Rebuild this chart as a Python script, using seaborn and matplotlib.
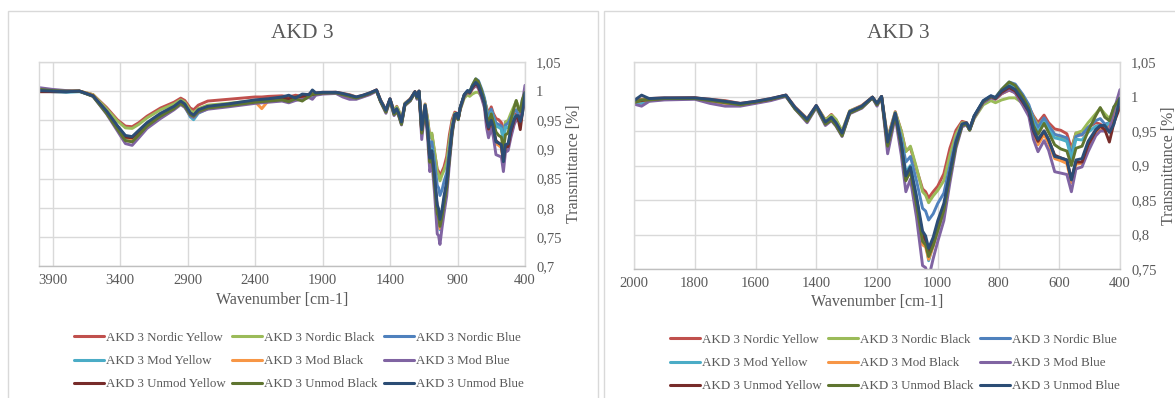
import pandas as pd
import matplotlib.pyplot as plt
import seaborn as sns
from matplotlib.lines import Line2D
from matplotlib.patches import Rectangle

# Wavenumber grid [cm-1] and transmittance
wavenumber = [4000, 3900, 3800, 3700, 3600, 3500, 3420, 3360, 3310, 3260,
              3200, 3100, 3000, 2950, 2920, 2880, 2855, 2820, 2750, 2600,
              2400, 2350, 2300, 2200, 2150, 2100, 2050, 2000, 1975, 1950,
              1900, 1800, 1750, 1700, 1650, 1600, 1550, 1500, 1470, 1430,
              1400, 1370, 1350, 1335, 1315, 1290, 1250, 1215, 1200, 1185,
              1165, 1140, 1120, 1105, 1090, 1070, 1050, 1040, 1030, 1015,
              1000, 980, 960, 940, 920, 905, 895, 880, 850, 825,
              810, 790, 765, 745, 720, 700, 685, 670, 650, 635,
              615, 595, 575, 560, 545, 525, 505, 480, 465, 450,
              435, 420, 400]

nordic_yellow = [1.000, 1.000, 1.000, 1.000, 0.994, 0.972, 0.951, 0.940, 0.939, 0.946,
                 0.957, 0.971, 0.981, 0.988, 0.984, 0.971, 0.968, 0.976, 0.983, 0.986,
                 0.990, 0.990, 0.991, 0.992, 0.990, 0.993, 0.991, 0.995, 0.996, 0.997,
                 0.998, 0.998, 0.996, 0.994, 0.990, 0.993, 0.997, 1.002, 0.985, 0.968,
                 0.987, 0.966, 0.974, 0.966, 0.949, 0.979, 0.987, 0.999, 0.990, 1.000,
                 0.940, 0.978, 0.950, 0.921, 0.926, 0.895, 0.866, 0.862, 0.853, 0.862,
                 0.870, 0.888, 0.925, 0.951, 0.964, 0.962, 0.952, 0.970, 0.992, 1.000,
                 0.997, 1.004, 1.009, 1.006, 0.993, 0.985, 0.972, 0.962, 0.973, 0.962,
                 0.953, 0.951, 0.946, 0.925, 0.947, 0.944, 0.955, 0.962, 0.960, 0.955,
                 0.960, 0.975, 0.985]
nordic_black = [1.001, 1.000, 1.000, 1.000, 0.994, 0.970, 0.949, 0.937, 0.936, 0.943,
                0.954, 0.968, 0.978, 0.985, 0.981, 0.967, 0.963, 0.970, 0.976, 0.979,
                0.984, 0.985, 0.986, 0.988, 0.986, 0.990, 0.992, 0.993, 0.995, 0.996,
                0.997, 0.997, 0.995, 0.993, 0.989, 0.992, 0.996, 1.001, 0.984, 0.967,
                0.986, 0.966, 0.973, 0.967, 0.950, 0.979, 0.986, 0.999, 0.990, 1.000,
                0.938, 0.977, 0.950, 0.920, 0.928, 0.897, 0.862, 0.857, 0.846, 0.856,
                0.864, 0.878, 0.915, 0.945, 0.962, 0.961, 0.952, 0.968, 0.988, 0.994,
                0.991, 0.995, 0.998, 0.998, 0.990, 0.984, 0.970, 0.958, 0.968, 0.958,
                0.945, 0.941, 0.935, 0.920, 0.947, 0.950, 0.962, 0.975, 0.983, 0.975,
                0.968, 0.980, 0.990]
nordic_blue = [1.002, 1.000, 0.999, 1.000, 0.992, 0.965, 0.940, 0.922, 0.920, 0.930,
               0.944, 0.960, 0.973, 0.981, 0.976, 0.961, 0.957, 0.966, 0.973, 0.977,
               0.983, 0.984, 0.985, 0.987, 0.985, 0.989, 0.990, 0.992, 0.993, 0.995,
               0.997, 0.997, 0.995, 0.992, 0.989, 0.992, 0.996, 1.001, 0.984, 0.966,
               0.986, 0.962, 0.969, 0.961, 0.946, 0.977, 0.985, 0.999, 0.989, 1.000,
               0.933, 0.975, 0.940, 0.905, 0.913, 0.878, 0.838, 0.834, 0.821, 0.830,
               0.845, 0.860, 0.900, 0.938, 0.960, 0.961, 0.953, 0.972, 0.994, 1.001,
               0.999, 1.010, 1.021, 1.018, 1.003, 0.988, 0.968, 0.955, 0.969, 0.958,
               0.945, 0.943, 0.940, 0.915, 0.942, 0.945, 0.955, 0.965, 0.968, 0.960,
               0.962, 0.985, 0.995]
mod_yellow = [1.001, 0.999, 0.998, 0.999, 0.992, 0.964, 0.938, 0.919, 0.917, 0.928,
              0.942, 0.958, 0.971, 0.979, 0.974, 0.956, 0.951, 0.962, 0.970, 0.975,
              0.981, 0.982, 0.983, 0.984, 0.983, 0.986, 0.988, 0.991, 0.990, 0.994,
              0.996, 0.997, 0.994, 0.991, 0.988, 0.991, 0.995, 1.001, 0.983, 0.965,
              0.985, 0.960, 0.967, 0.959, 0.944, 0.976, 0.984, 0.998, 0.988, 0.999,
              0.930, 0.973, 0.935, 0.890, 0.900, 0.855, 0.795, 0.790, 0.762, 0.785,
              0.805, 0.835, 0.885, 0.930, 0.958, 0.960, 0.952, 0.971, 0.993, 1.000,
              0.998, 1.007, 1.017, 1.013, 0.998, 0.984, 0.962, 0.948, 0.963, 0.952,
              0.940, 0.938, 0.935, 0.910, 0.938, 0.937, 0.948, 0.957, 0.958, 0.956,
              0.962, 0.980, 0.992]
mod_black = [1.002, 1.001, 1.000, 1.000, 0.993, 0.965, 0.939, 0.920, 0.918, 0.929,
             0.943, 0.959, 0.972, 0.980, 0.975, 0.960, 0.956, 0.965, 0.972, 0.976,
             0.982, 0.970, 0.984, 0.986, 0.986, 0.988, 0.990, 0.992, 0.994, 0.995,
             0.997, 0.997, 0.993, 0.990, 0.988, 0.992, 0.996, 1.001, 0.983, 0.964,
             0.985, 0.961, 0.968, 0.960, 0.945, 0.976, 0.984, 0.999, 0.988, 0.999,
             0.926, 0.973, 0.930, 0.880, 0.893, 0.845, 0.785, 0.782, 0.764, 0.783,
             0.806, 0.835, 0.885, 0.930, 0.958, 0.960, 0.952, 0.970, 0.992, 0.999,
             0.996, 1.004, 1.011, 1.006, 0.990, 0.975, 0.948, 0.930, 0.945, 0.932,
             0.910, 0.907, 0.903, 0.875, 0.902, 0.903, 0.925, 0.945, 0.952, 0.950,
             0.955, 0.972, 0.988]
mod_blue = [1.006, 1.003, 1.001, 1.000, 0.991, 0.961, 0.932, 0.910, 0.907, 0.920,
            0.936, 0.953, 0.968, 0.977, 0.972, 0.958, 0.955, 0.963, 0.969, 0.973,
            0.979, 0.980, 0.981, 0.983, 0.980, 0.984, 0.986, 0.989, 0.986, 0.993,
            0.995, 0.996, 0.990, 0.986, 0.986, 0.990, 0.994, 1.000, 0.982, 0.962,
            0.984, 0.958, 0.965, 0.957, 0.942, 0.975, 0.983, 0.998, 0.986, 0.999,
            0.917, 0.970, 0.915, 0.862, 0.880, 0.825, 0.755, 0.752, 0.737, 0.765,
            0.790, 0.820, 0.875, 0.925, 0.956, 0.959, 0.951, 0.969, 0.991, 0.998,
            0.996, 1.004, 1.010, 1.005, 0.987, 0.971, 0.938, 0.920, 0.936, 0.922,
            0.891, 0.889, 0.887, 0.862, 0.895, 0.898, 0.920, 0.943, 0.950, 0.950,
            0.952, 0.980, 1.010]
unmod_yellow = [0.999, 0.999, 0.999, 1.000, 0.992, 0.965, 0.939, 0.921, 0.920, 0.930,
                0.944, 0.960, 0.972, 0.981, 0.976, 0.962, 0.958, 0.967, 0.973, 0.977,
                0.983, 0.984, 0.986, 0.988, 0.987, 0.990, 0.991, 0.993, 0.994, 0.996,
                0.997, 0.998, 0.995, 0.992, 0.989, 0.992, 0.996, 1.002, 0.983, 0.966,
                0.986, 0.962, 0.968, 0.960, 0.946, 0.977, 0.985, 0.999, 0.989, 1.000,
                0.930, 0.974, 0.930, 0.880, 0.893, 0.848, 0.800, 0.792, 0.775, 0.790,
                0.812, 0.840, 0.888, 0.932, 0.959, 0.961, 0.952, 0.971, 0.993, 1.000,
                0.997, 1.006, 1.013, 1.008, 0.992, 0.978, 0.950, 0.935, 0.950, 0.937,
                0.915, 0.911, 0.908, 0.880, 0.905, 0.905, 0.930, 0.950, 0.957, 0.952,
                0.934, 0.962, 0.985]
unmod_black = [1.003, 1.001, 1.000, 1.000, 0.991, 0.962, 0.935, 0.915, 0.913, 0.925,
               0.940, 0.957, 0.970, 0.979, 0.974, 0.960, 0.957, 0.965, 0.971, 0.975,
               0.981, 0.982, 0.983, 0.985, 0.982, 0.987, 0.983, 0.991, 0.995, 0.995,
               0.997, 0.997, 0.994, 0.991, 0.988, 0.992, 0.996, 1.001, 0.982, 0.964,
               0.985, 0.960, 0.966, 0.958, 0.943, 0.976, 0.984, 0.998, 0.988, 0.999,
               0.928, 0.973, 0.928, 0.878, 0.892, 0.843, 0.790, 0.785, 0.768, 0.784,
               0.806, 0.835, 0.884, 0.929, 0.958, 0.960, 0.951, 0.971, 0.993, 1.000,
               0.998, 1.010, 1.021, 1.016, 1.000, 0.983, 0.958, 0.945, 0.961, 0.948,
               0.930, 0.924, 0.921, 0.900, 0.925, 0.928, 0.950, 0.972, 0.984, 0.970,
               0.965, 0.985, 0.998]
unmod_blue = [1.001, 1.000, 0.999, 1.000, 0.992, 0.966, 0.941, 0.924, 0.922, 0.933,
              0.946, 0.962, 0.974, 0.983, 0.978, 0.963, 0.959, 0.968, 0.974, 0.978,
              0.985, 0.986, 0.987, 0.990, 0.993, 0.988, 0.995, 0.994, 1.002, 0.997,
              0.998, 0.998, 0.996, 0.993, 0.990, 0.993, 0.997, 1.002, 0.984, 0.967,
              0.987, 0.963, 0.970, 0.962, 0.947, 0.978, 0.986, 0.999, 0.990, 1.000,
              0.934, 0.976, 0.932, 0.885, 0.898, 0.855, 0.805, 0.798, 0.780, 0.796,
              0.820, 0.845, 0.890, 0.934, 0.960, 0.962, 0.953, 0.972, 0.994, 1.001,
              0.998, 1.008, 1.015, 1.010, 0.994, 0.979, 0.952, 0.938, 0.950, 0.938,
              0.913, 0.911, 0.908, 0.879, 0.908, 0.910, 0.935, 0.952, 0.958, 0.958,
              0.948, 0.960, 0.997]

series_names = ['AKD 3 Nordic Yellow', 'AKD 3 Nordic Black', 'AKD 3 Nordic Blue',
                'AKD 3 Mod Yellow', 'AKD 3 Mod Black', 'AKD 3 Mod Blue',
                'AKD 3 Unmod Yellow', 'AKD 3 Unmod Black', 'AKD 3 Unmod Blue']
series_values = [nordic_yellow, nordic_black, nordic_blue,
                 mod_yellow, mod_black, mod_blue,
                 unmod_yellow, unmod_black, unmod_blue]
colors = ['#C0504D', '#9BBB59', '#4F81BD', '#4BACC6', '#F79646',
          '#8064A2', '#772C2A', '#5F7530', '#2C4D75']

df = pd.concat([pd.DataFrame({'wn': wavenumber, 'T': vals, 'series': name})
                for name, vals in zip(series_names, series_values)], ignore_index=True)

sns.set_style('white')
plt.rcParams['font.family'] = ['Liberation Serif', 'DejaVu Serif']
text_grey = '#595959'

W, H = 1175, 398
fig = plt.figure(figsize=(W / 100, H / 100), dpi=100)

# Left: full range, right: fingerprint region
panels = [
    {'box': (39, 62, 525, 266), 'xlim': (4000, 400), 'xticks': [3900, 3400, 2900, 2400, 1900, 1400, 900, 400],
     'ylim': (0.7, 1.05), 'frame': (8, 598), 'title_x': 302, 'legend_xy': (299, 361)},
    {'box': (634, 62, 1120, 269), 'xlim': (2000, 400), 'xticks': [2000, 1800, 1600, 1400, 1200, 1000, 800, 600, 400],
     'ylim': (0.75, 1.05), 'frame': (604, 1185), 'title_x': 898, 'legend_xy': (895, 363)},
]

# legend fills row by row, as in the Excel chart
row_order = [0, 3, 6, 1, 4, 7, 2, 5, 8]

for p in panels:
    x0, y0, x1, y1 = p['box']
    ax = fig.add_axes([x0 / W, 1 - y1 / H, (x1 - x0) / W, (y1 - y0) / H])

    sns.lineplot(data=df, x='wn', y='T', hue='series', hue_order=series_names,
                 palette=colors, linewidth=2.1, sort=False, estimator=None,
                 legend=False, ax=ax)

    ax.set_xlim(*p['xlim'])
    ax.set_ylim(*p['ylim'])
    ax.set_xticks(p['xticks'])
    lo, hi = p['ylim']
    yt = [round(lo + 0.05 * i, 2) for i in range(int(round((hi - lo) / 0.05)) + 1)]
    ax.set_yticks(yt)
    ax.set_yticklabels([f'{v:g}'.replace('.', ',') for v in yt])
    ax.yaxis.tick_right()
    ax.yaxis.set_label_position('right')
    ax.tick_params(axis='both', length=0, labelsize=10.5, labelcolor=text_grey)
    ax.tick_params(axis='x', pad=6)
    ax.tick_params(axis='y', pad=8)
    ax.grid(True, color='#D9D9D9', linewidth=1)
    ax.set_axisbelow(True)
    for side in ['left', 'right', 'top']:
        ax.spines[side].set_color('#D9D9D9')
        ax.spines[side].set_linewidth(1)
    ax.spines['bottom'].set_color('#BFBFBF')
    ax.spines['bottom'].set_linewidth(1)

    ax.set_xlabel('Wavenumber [cm-1]', fontsize=11.5, color=text_grey, labelpad=3)
    ax.set_ylabel('Transmittance [%]', fontsize=11.5, color=text_grey, labelpad=3)

    fig.text(p['title_x'] / W, 1 - 33 / H, 'AKD 3', ha='center', va='center',
             fontsize=15.5, color=text_grey)

    # chart-area frame
    fx0, fx1 = p['frame']
    fig.patches.append(Rectangle((fx0 / W, -0.05), (fx1 - fx0) / W, 1.05 - 11 / H,
                                 transform=fig.transFigure, fill=False,
                                 edgecolor='#D9D9D9', linewidth=1))

    handles = [Line2D([], [], color=colors[i], linewidth=2.2) for i in row_order]
    labels = [series_names[i] for i in row_order]
    lx, ly = p['legend_xy']
    fig.legend(handles, labels, loc='center', bbox_to_anchor=(lx / W, 1 - ly / H),
               ncol=3, frameon=False, fontsize=9.4, labelcolor=text_grey,
               handlelength=2.3, handletextpad=0.15, columnspacing=0.5,
               labelspacing=0.85)

fig.savefig('out.png', dpi=100)
